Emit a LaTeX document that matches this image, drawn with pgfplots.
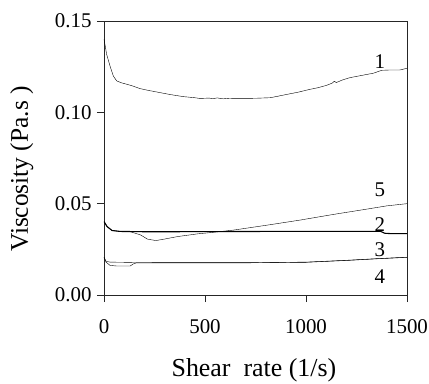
\documentclass[border=0pt]{standalone}
\usepackage{fontspec}
\setmainfont{Liberation Serif}
\usepackage{pgfplots}
\pgfplotsset{compat=1.18}
\begin{document}
\begin{tikzpicture}
\begin{axis}[
  scale only axis, width=303bp, height=274bp,
  xmin=0, xmax=1500, ymin=0, ymax=0.15,
  axis line style={black!85, line width=0.7bp},
  tick style={black!85, line width=0.7bp},
  tick align=outside, major tick length=7bp,
  xtick={0,500,1000,1500}, ytick={0,0.05,0.1,0.15},
  xtick pos=bottom, ytick pos=left,
  /pgf/number format/assume math mode=true,
  /pgf/number format/1000 sep={},
  yticklabel style={/pgf/number format/fixed, /pgf/number format/fixed zerofill, /pgf/number format/precision=2, xshift=-2bp},
  tick label style={font=\fontsize{21}{24}\selectfont},
  xticklabel style={yshift=-14bp},
  xlabel={Shear\ \ rate (1/s)},
  ylabel={Viscosity (Pa.s )},
  xlabel style={at={(axis description cs:0.495,-0.299)}, anchor=base, font=\fontsize{26}{30}\selectfont},
  ylabel style={at={(axis description cs:-0.251,0.46)}, anchor=base, font=\fontsize{25.5}{30}\selectfont},
  cycle list={{black, no markers, line width=1.1bp}},
]
% curve 1
\addplot coordinates {(0,0.1400)(5,0.1370)(13,0.1318)(30,0.1253)(46,0.1199)(63,0.1172)(85,0.1162)(112,0.1154)(140,0.1145)(178,0.1130)(220,0.1120)(277,0.1108)(330,0.1097)(393,0.1086)(450,0.1080)(475,0.1076)(520,0.1078)(541,0.1075)(560,0.1079)(590,0.1074)(620,0.1077)(680,0.1076)(750,0.1077)(822,0.1080)(860,0.1088)(904,0.1098)(960,0.1110)(1020,0.1126)(1060,0.1135)(1102,0.1148)(1130,0.1160)(1140,0.1170)(1150,0.1163)(1180,0.1177)(1218,0.1190)(1280,0.1203)(1333,0.1214)(1375,0.1230)(1420,0.1232)(1465,0.1232)(1500,0.1241)};
% curve 5
\addplot coordinates {(0,0.0402)(15,0.0375)(40,0.0353)(81,0.0348)(131,0.0346)(181,0.0329)(215,0.0306)(257,0.0298)(298,0.0306)(365,0.0320)(465,0.0335)(531,0.0342)(639,0.0355)(805,0.0382)(970,0.0410)(1135,0.0441)(1300,0.0470)(1400,0.0488)(1500,0.0500)};
% curve 2
\addplot coordinates {(0,0.0402)(15,0.0375)(40,0.0353)(81,0.0348)(229,0.0346)(500,0.0347)(800,0.0348)(1100,0.0348)(1370,0.0348)(1390,0.0338)(1420,0.0336)(1500,0.0336)};
% curve 3
\addplot coordinates {(0,0.0207)(10,0.0185)(30,0.0180)(100,0.0179)(150,0.0178)(400,0.0177)(700,0.0177)(1000,0.0180)(1200,0.0190)(1350,0.0199)(1500,0.0207)};
% curve 4
\addplot coordinates {(0,0.0205)(10,0.0180)(30,0.0162)(60,0.0159)(130,0.0159)(145,0.0170)(160,0.0176)(400,0.0176)(700,0.0176)(1000,0.0179)(1200,0.0189)(1350,0.0198)(1500,0.0206)};
\node[font=\fontsize{21}{24}\selectfont] at (axis cs:1366,0.1280) {1};
\node[font=\fontsize{21}{24}\selectfont] at (axis cs:1366,0.0577) {5};
\node[font=\fontsize{21}{24}\selectfont] at (axis cs:1366,0.0385) {2};
\node[font=\fontsize{21}{24}\selectfont] at (axis cs:1366,0.0247) {3};
\node[font=\fontsize{21}{24}\selectfont] at (axis cs:1366,0.0099) {4};
\end{axis}
\pgfresetboundingbox
\path[use as bounding box] ([xshift=-104bp,yshift=-89bp]current axis.south west) rectangle ([xshift=22bp,yshift=21bp]current axis.north east);
\end{tikzpicture}
\end{document}
